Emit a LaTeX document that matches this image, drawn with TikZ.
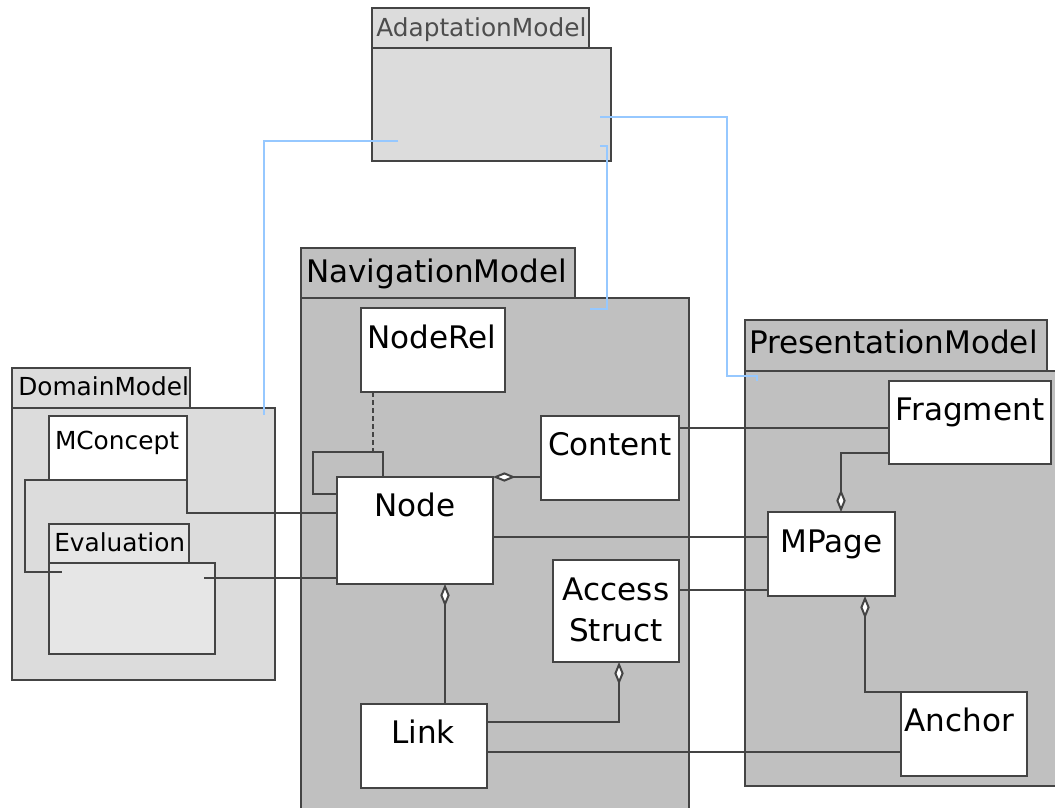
\documentclass[tikz,border=0pt]{standalone}
\usepackage{fontspec}
\setmainfont{DejaVu Sans}
\usetikzlibrary{fit,calc,arrows.meta}
\definecolor{edge}{HTML}{444444}
\definecolor{pkglight}{HTML}{DCDCDC}
\definecolor{pkgeval}{HTML}{E6E6E6}
\definecolor{pkgdark}{HTML}{C0C0C0}
\definecolor{trace}{RGB}{150,200,255}
\definecolor{fadedtext}{HTML}{4D4D4D}
\tikzset{agg/.tip={Diamond[fill=white,length=17pt,width=7pt]}}

\begin{document}
\begin{tikzpicture}[x=0.75pt,y=-0.75pt,
  frame/.style={draw=edge,line width=1.5pt,inner sep=0pt,outer sep=0pt},
  cls/.style={frame,fill=white},
  big/.style={font=\fontsize{23.3}{28}\selectfont,inner sep=0pt},
  small/.style={font=\fontsize{18.6}{22.3}\selectfont,inner sep=0pt},
  wire/.style={draw=edge,line width=1.5pt},
  trc/.style={draw=trace,line width=1.3pt}]

\useasboundingbox (0,0) rectangle (1055,807);
\clip (0,0) rectangle (1055,807);

% ---- packages ----
% AdaptationModel
\node[frame,fill=pkglight,fit={(372,8) (589,48)}] (adapttab) {};
\node[frame,fill=pkglight,fit={(372,48) (611,161)}] (adaptbody) {};
\node[small,text=fadedtext,anchor=base west] (adaptlbl) at ($(adapttab.north west)+(4,28)$) {AdaptationModel};

% DomainModel
\node[frame,fill=pkglight,fit={(12,368) (190,408)}] (domtab) {};
\node[frame,fill=pkglight,fit={(12,408) (275,680)}] (dombody) {};
\node[small,anchor=base west] (domlbl) at ($(domtab.north west)+(6,27)$) {DomainModel};

% NavigationModel
\node[frame,fill=pkgdark,fit={(301,248) (575,298)}] (navtab) {};
\node[frame,fill=pkgdark,fit={(301,298) (689,830)}] (navbody) {};
\node[big,anchor=base west] (navlbl) at ($(navtab.north west)+(5,34)$) {NavigationModel};

% PresentationModel
\node[frame,fill=pkgdark,fit={(745,320) (1047,371)}] (prestab) {};
\node[frame,fill=pkgdark,fit={(745,371) (1075,786)}] (presbody) {};
\node[big,anchor=base west] (preslbl) at ($(prestab.north west)+(4,33)$) {PresentationModel};

% ---- classes and nested packages ----
\node[cls,fit={(49,416) (187,480)}] (mcon) {};
\node[small,anchor=base] (mconlbl) at ($(mcon.north)+(-1,33)$) {MConcept};

\node[frame,fill=pkgeval,fit={(49,524) (189,563)}] (evaltab) {};
\node[frame,fill=pkgeval,fit={(49,563) (215,654)}] (evalbody) {};
\node[small,anchor=base west] (evallbl) at ($(evaltab.north west)+(5,27)$) {Evaluation};

\node[cls,fit={(361,308) (505,392)}] (noderel) {};
\node[big,anchor=base] (noderellbl) at ($(noderel.north)+(-1,40)$) {NodeRel};

\node[cls,fit={(337,477) (493,584)}] (node) {};
\node[big,anchor=base] (nodelbl) at ($(node.north)+(0,39)$) {Node};

\node[cls,fit={(541,416) (679,500)}] (content) {};
\node[big,anchor=base] (contentlbl) at ($(content.north)+(0,39)$) {Content};

\node[cls,fit={(553,560) (679,662)}] (access) {};
\node[big,anchor=base] (accesslbl) at ($(access.north)+(0,40)$) {Access};
\node[big,anchor=base] (structlbl) at ($(access.north)+(0,81)$) {Struct};

\node[cls,fit={(361,704) (487,788)}] (link) {};
\node[big,anchor=base] (linklbl) at ($(link.north)+(-1,39)$) {Link};

\node[cls,fit={(889,381) (1051,464)}] (fragment) {};
\node[big,anchor=base] (fragmentlbl) at ($(fragment.north)+(0,39)$) {Fragment};

\node[cls,fit={(768,512) (895,596)}] (mpage) {};
\node[big,anchor=base] (mpagelbl) at ($(mpage.north)+(0,40)$) {MPage};

\node[cls,fit={(901,692) (1027,776)}] (anchor) {};
\node[big,anchor=base west] (anchorlbl) at ($(anchor.north west)+(3,39)$) {Anchor};

% ---- connector end points inside packages ----
\coordinate (evalin)  at ($(evalbody.north west)+(13,9)$);
\coordinate (evalout) at ($(evalbody.north west)+(155,15)$);
\coordinate (adaptl)  at ($(adaptbody.north west)+(26,93)$);
\coordinate (adaptr)  at ($(adaptbody.north west)+(228,69)$);
\coordinate (adaptb)  at ($(adaptbody.north west)+(228,98)$);
\coordinate (domin)   at ($(dombody.north west)+(252,7)$);
\coordinate (navin)   at ($(navbody.north west)+(289,11)$);
\coordinate (presin)  at ($(presbody.north west)+(12,10)$);

% ---- associations ----
\draw[wire] (mcon.south east) -- ($(mcon.south east)+(0,33)$) -- ($(node.north west)+(0,36)$);
\draw[wire] (mcon.south west) -- ++(-24,0) |- (evalin);
\draw[wire] (evalout) -- ($(node.north west)+(0,101)$);

% Node self association with its association class
\draw[wire] ($(node.north west)+(46,0)$) |- ($(node.north west)+(-24,-25)$) |- ($(node.north west)+(0,17)$);
\draw[wire,dash pattern=on 4pt off 2pt] ($(noderel.south west)+(12,0)$) -- ++(0,60);

\draw[wire,agg-] (node.north east) -- (content.west |- node.north east);
\draw[wire] ($(content.north east)+(0,12)$) -- ($(fragment.north west)+(0,47)$);
\draw[wire,-agg] ($(fragment.south west)+(0,-11)$) -| ($(mpage.north west)+(73,0)$);
\draw[wire] ($(node.north east)+(0,60)$) -- ($(mpage.north west)+(0,25)$);
\draw[wire] ($(access.north east)+(0,30)$) -- ($(mpage.north west)+(0,78)$);
\draw[wire,agg-] ($(node.south west)+(108,0)$) -- ($(link.north west)+(84,0)$);
\draw[wire,agg-] ($(access.south west)+(66,0)$) |- ($(link.north east)+(0,18)$);
\draw[wire] ($(link.north east)+(0,48)$) -- ($(anchor.north west)+(0,60)$);
\draw[wire,agg-] ($(mpage.south west)+(97,0)$) |- (anchor.north west);

% ---- trace links from the adaptation model ----
\draw[trc] (adaptl) -| (domin);
\draw[trc] (adaptr) -| ($(presbody.north west)+(-18,5)$) -| (presin);
\draw[trc] (adaptb) -| ($(navbody.north west)+(306,11)$) -- (navin);
\end{tikzpicture}
\end{document}
